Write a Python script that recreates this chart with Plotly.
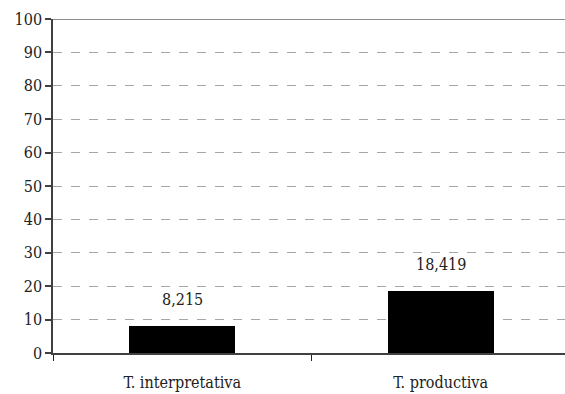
import plotly.graph_objects as go

categories = ["T. interpretativa", "T. productiva"]
values = [8.215, 18.419]
y_ticks = list(range(0, 101, 10))

FONT = "DejaVu Serif Condensed, DejaVu Serif"
SIZE = 16
x_pos = list(range(len(categories)))

fig = go.Figure(
    go.Bar(
        x=x_pos,
        y=values,
        width=0.41,
        marker=dict(color="black", line=dict(width=0)),
        hoverinfo="skip",
    )
)

# value labels above each bar, using a decimal comma
for xp, v in zip(x_pos, values):
    fig.add_annotation(
        x=xp, y=v, text=f"{v:.3f}".replace(".", ","),
        showarrow=False, yanchor="bottom", yshift=15,
        font=dict(family=FONT, size=SIZE, color="#222"),
    )

# solid line along the top of the plot area
fig.add_shape(type="line", xref="paper", yref="y", x0=0, x1=1, y0=100, y1=100,
              line=dict(color="#8c8c8c", width=2))

fig.update_layout(
    width=565, height=394,
    margin=dict(l=53, r=0, t=19, b=41),
    paper_bgcolor="white", plot_bgcolor="white",
    showlegend=False,
    bargap=0,
    font=dict(family=FONT, size=SIZE, color="#222"),
    xaxis=dict(
        range=[-0.5, 1.481],
        tickvals=x_pos, ticktext=categories, ticks="",
        ticklabelstandoff=14,
        showgrid=False, zeroline=False,
        showline=True, linecolor="#404040", linewidth=1.5,
        tickfont=dict(family=FONT, size=SIZE, color="#222"),
        minor=dict(tick0=-0.5, dtick=1, ticks="outside", ticklen=6,
                   tickcolor="#222", tickwidth=1, showgrid=False),
        fixedrange=True,
    ),
    yaxis=dict(
        range=[0, 100],
        tickvals=y_ticks,
        ticks="outside", ticklen=6, tickcolor="#404040", tickwidth=1.5,
        showline=True, linecolor="#404040", linewidth=1.5,
        showgrid=True, gridcolor="#a6a6a6", griddash="dash", gridwidth=1,
        zeroline=False,
        tickfont=dict(family=FONT, size=SIZE, color="#222"),
        fixedrange=True,
    ),
)

fig.write_html("out.html")
